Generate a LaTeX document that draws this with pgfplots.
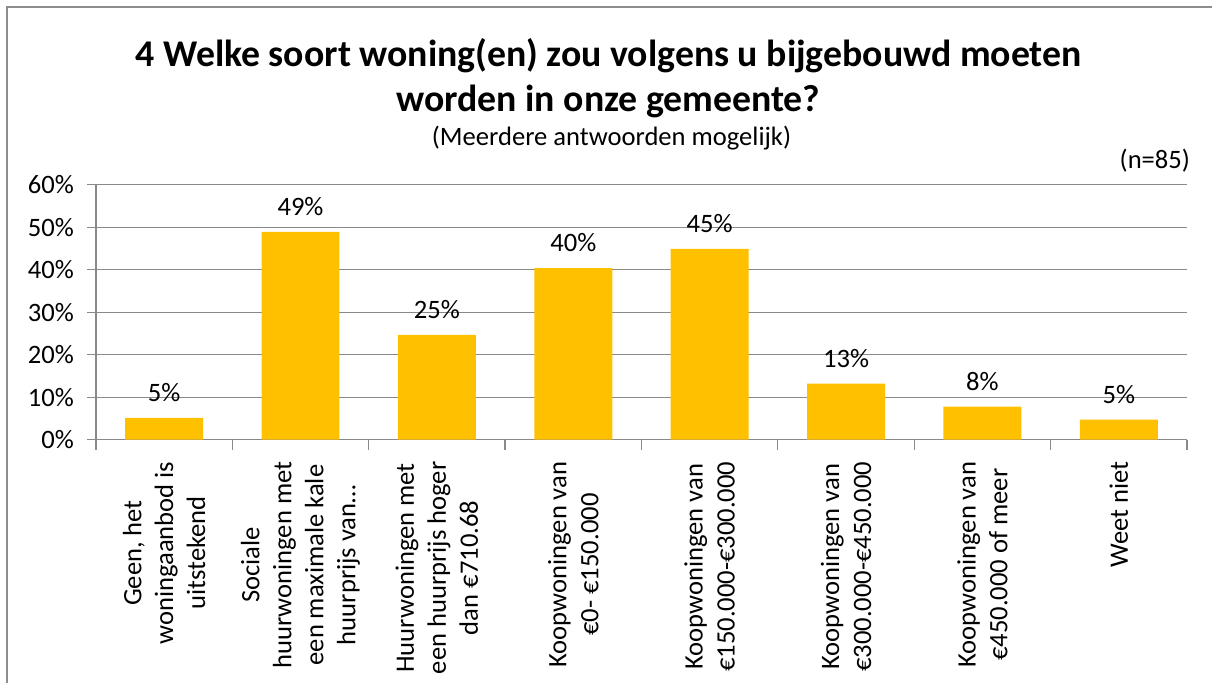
\documentclass[border=0pt]{standalone}
\usepackage{pgfplots}
\pgfplotsset{compat=1.18}
\usepackage{fontspec}
\setmainfont{Carlito}
\definecolor{barorange}{HTML}{FFC000}
\definecolor{gridgray}{HTML}{898989}
\definecolor{framegray}{HTML}{8D8D8D}

\begin{document}
\begin{tikzpicture}
% page size: 1213x684 px at 0.5pt/px
\path (0,0) rectangle (606.5pt,342pt);
% chart frame, only its left and top edges lie inside the picture
\draw[framegray, line width=1pt] (3.5pt,0pt) -- (3.5pt,338.5pt) -- (606.5pt,338.5pt);

\node[font=\fontsize{18.9}{22.5}\selectfont\bfseries, align=center] at (304.5pt,303pt)
  {4 Welke soort woning(en) zou volgens u bijgebouwd moeten\\worden in onze gemeente?};
\node[font=\fontsize{13.3}{16}\selectfont] at (306pt,273pt) {(Meerdere antwoorden mogelijk)};
\node[font=\fontsize{13.3}{16}\selectfont, anchor=east] at (599pt,261.5pt) {(n=85)};

\begin{axis}[
  at={(48pt,122pt)}, anchor=south west,
  scale only axis,
  width=546pt, height=127.5pt,
  ybar, bar width=39pt,
  xmin=-0.5, xmax=7.5,
  ymin=0, ymax=60,
  ytick={0,10,20,30,40,50,60},
  yticklabel={\pgfmathprintnumber{\tick}\%},
  xtick={0,1,2,3,4,5,6,7},
  xticklabels={
    {Geen, het\\woningaanbod is\\uitstekend},
    {Sociale\\huurwoningen met\\een maximale kale\\huurprijs van…},
    {Huurwoningen met\\een huurprijs hoger\\dan €710.68},
    {Koopwoningen van\\€0- €150.000},
    {Koopwoningen van\\€150.000-€300.000},
    {Koopwoningen van\\€300.000-€450.000},
    {Koopwoningen van\\€450.000 of meer},
    {Weet niet}},
  minor xtick={-0.5,0.5,1.5,2.5,3.5,4.5,5.5,6.5,7.5},
  major x tick style={draw=none},
  tick align=outside,
  major tick length=4.5pt,
  minor tick length=5pt,
  tick style={gridgray, line width=0.6pt},
  axis x line*=bottom, axis y line*=left,
  axis line style={gridgray, line width=0.6pt},
  ymajorgrids, grid style={gridgray, line width=0.6pt},
  xticklabel shift=3pt,
  xticklabel style={rotate=90, anchor=east, align=center, font=\fontsize{13.3}{16}\selectfont},
  yticklabel style={font=\fontsize{13.3}{16}\selectfont, xshift=-3pt},
  nodes near coords={\pgfmathprintnumber[fixed,precision=0]{\pgfplotspointmeta}\%},
  every node near coord/.append style={font=\fontsize{13.3}{16}\selectfont, yshift=4.5pt},
  /pgf/number format/assume math mode=true,
]
\addplot[fill=barorange, draw=none] coordinates {
  (0,5.1) (1,48.9) (2,24.7) (3,40.4) (4,44.9) (5,13.2) (6,7.8) (7,4.7)};
\end{axis}
\end{tikzpicture}
\end{document}
